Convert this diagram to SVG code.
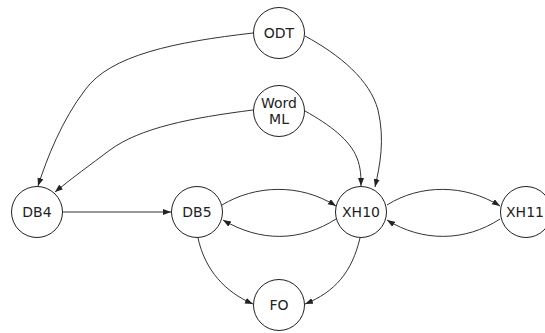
<svg xmlns="http://www.w3.org/2000/svg" width="545" height="333" viewBox="0 0 545 333">
<style>
.node circle{fill:#fff;stroke:#222;stroke-width:1}
.node text{font-family:"DejaVu Sans",sans-serif;font-size:14px;fill:#222;text-anchor:middle}
.edge{fill:none;stroke:#333;stroke-width:1;marker-end:url(#arr)}
</style>
<defs>
<marker id="arr" markerUnits="userSpaceOnUse" markerWidth="9" markerHeight="7" refX="8" refY="3" orient="auto">
<path d="M0,0 L8,3 L0,6 z" fill="#222"/>
</marker>
</defs>
<rect width="545" height="333" fill="#fff"/>
<g id="edges">
<path class="edge" d="M253,33 C175,42 110,55 85,90 C62,120 47,158 38,186"/>
<path class="edge" d="M253,110 C190,118 140,128 110,150 C90,165 72,178 55,192"/>
<path class="edge" d="M62.5,212 L171,212"/>
<path class="edge" d="M222,205 C255,185 300,183 336,206"/>
<path class="edge" d="M336,219 C300,242 260,242 223,220"/>
<path class="edge" d="M387,205 C420,184 465,184 500,206"/>
<path class="edge" d="M500,219 C465,242 422,242 387,220"/>
<path class="edge" d="M305,36 C340,55 370,80 378,110 C385,140 380,165 375,187"/>
<path class="edge" d="M305,111 C330,125 350,140 357,158 C361,168 361,178 361,186"/>
<path class="edge" d="M198,238 C205,270 225,292 253,304"/>
<path class="edge" d="M360,238 C352,272 335,292 305,304"/>
</g>
<g id="ODT" class="node"><circle cx="279" cy="33" r="25.5"/><text x="279" y="38">ODT</text></g>
<g id="WordML" class="node"><circle cx="279" cy="111" r="25.5"/><text x="279" y="108">Word</text><text x="279" y="124">ML</text></g>
<g id="DB4" class="node"><circle cx="37" cy="212" r="25.5"/><text x="37" y="217">DB4</text></g>
<g id="DB5" class="node"><circle cx="197" cy="212" r="25.5"/><text x="197" y="217">DB5</text></g>
<g id="XH10" class="node"><circle cx="361" cy="212" r="25.5"/><text x="361" y="217">XH10</text></g>
<g id="XH11" class="node"><circle cx="526" cy="212" r="25.5"/><text x="525" y="217">XH11</text></g>
<g id="FO" class="node"><circle cx="279" cy="305" r="25.5"/><text x="279" y="310">FO</text></g>
</svg>
